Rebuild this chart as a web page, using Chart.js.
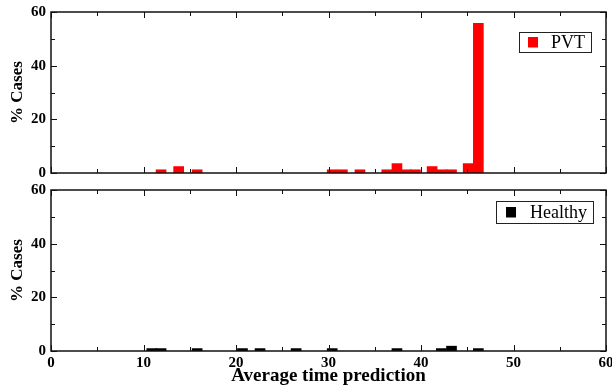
<!DOCTYPE html>
<html>
<head>
<meta charset="utf-8">
<script src="https://cdn.jsdelivr.net/npm/chart.js@4/dist/chart.umd.min.js"></script>
<style>
  html, body { margin: 0; padding: 0; background: #fff; }
  #wrap { position: relative; width: 612px; height: 388px; }
  #c1 { position: absolute; left: 0; top: 0; }
  #c2 { position: absolute; left: 0; top: 182px; }
</style>
</head>
<body>
<div id="wrap">
  <canvas id="c1" width="612" height="182"></canvas>
  <canvas id="c2" width="612" height="206"></canvas>
</div>
<script>
// ---- data ----
const pvtBins      = [11.9, 13.8, 15.8, 30.4, 31.5, 33.4, 36.3, 37.4, 38.4, 39.4, 41.2, 42.3, 43.3, 45.1, 46.2];
const pvtValues    = [1.2,  2.4,  1.2,  1.2,  1.2,  1.2,  1.2,  3.5,  1.2,  1.2,  2.4,  1.2,  1.2,  3.5,  55.8];
const healthyBins   = [10.9, 11.9, 15.8, 20.7, 22.6, 26.5, 30.4, 37.4, 42.2, 43.3, 46.2];
const healthyValues = [0.9,  0.9,  0.9,  0.9,  0.9,  0.9,  0.9,  0.9,  0.9,  1.8,  0.9];
const xTickValues = [0, 10, 20, 30, 40, 50, 60];
const yTickValues = [0, 20, 40, 60];
const seriesNames = ['PVT', 'Healthy'];
const yTitle = '% Cases';
const xTitle = 'Average time prediction';

const SERIF = '"Liberation Serif", "Times New Roman", serif';

function points(xs, ys) { return xs.map((x, i) => ({ x: x, y: ys[i] })); }

// frame + inward ticks on all four sides
const framePlugin = {
  id: 'frame',
  afterDraw(chart) {
    const { ctx, chartArea: a, scales } = chart;
    const xs = scales.x, ys = scales.y;
    ctx.save();
    ctx.strokeStyle = '#111';
    ctx.lineWidth = 1.5;
    ctx.strokeRect(a.left, a.top, a.right - a.left, a.bottom - a.top);
    ctx.lineWidth = 1;
    ctx.beginPath();
    for (let v = 0; v <= 60; v += 5) {
      const px = Math.round(xs.getPixelForValue(v)) + 0.5;
      const len = (v % 10 === 0) ? 6 : 4;
      ctx.moveTo(px, a.bottom); ctx.lineTo(px, a.bottom - len);
      ctx.moveTo(px, a.top); ctx.lineTo(px, a.top + len);
    }
    for (let v = 0; v <= 60; v += 10) {
      const py = Math.round(ys.getPixelForValue(v)) + 0.5;
      const len = (v % 20 === 0) ? 6 : 4;
      ctx.moveTo(a.left, py); ctx.lineTo(a.left + len, py);
      ctx.moveTo(a.right, py); ctx.lineTo(a.right - len, py);
    }
    ctx.stroke();
    ctx.restore();
  }
};

// boxed legend inside the plot
const boxLegendPlugin = {
  id: 'boxLegend',
  afterDraw(chart, args, opts) {
    const { ctx, chartArea: a } = chart;
    const ds = chart.data.datasets[0];
    ctx.save();
    ctx.font = '18px ' + SERIF;
    const tw = ctx.measureText(ds.label).width;
    const w = opts.padL + 10 + opts.gap + tw + opts.padR;
    const h = opts.h;
    const x = a.right - opts.right - w;
    const y = a.top + opts.top;
    ctx.fillStyle = '#fff';
    ctx.fillRect(x, y, w, h);
    ctx.strokeStyle = '#222';
    ctx.lineWidth = 1;
    ctx.strokeRect(Math.round(x) + 0.5, Math.round(y) + 0.5, Math.round(w), Math.round(h));
    ctx.fillStyle = ds.backgroundColor;
    ctx.fillRect(x + opts.padL, y + h / 2 - 5, 10, 10.5);
    ctx.fillStyle = '#000';
    ctx.textBaseline = 'middle';
    ctx.fillText(ds.label, x + opts.padL + 10 + opts.gap, y + h / 2 + 1);
    ctx.restore();
  }
};

function yScale(showTitle) {
  return {
    min: 0, max: 60,
    afterBuildTicks(scale) { scale.ticks = yTickValues.map(v => ({ value: v })); },
    afterFit(scale) { scale.width = 51; scale.paddingTop = 0; scale.paddingBottom = 0; },
    grid: { display: false, drawTicks: false },
    border: { display: false },
    ticks: { padding: 5, color: '#000', font: { family: SERIF, size: 15, weight: 'bold' } },
    title: { display: showTitle, text: yTitle, color: '#000', padding: { top: 7, bottom: 0 },
             font: { family: SERIF, size: 17, weight: 'bold' } }
  };
}

function makeChart(id, label, bins, values, color, showX, legendOpts, pad) {
  return new Chart(document.getElementById(id), {
    type: 'bar',
    data: {
      datasets: [{
        label: label,
        data: points(bins, values),
        backgroundColor: color,
        borderWidth: 0,
        barThickness: 10
      }]
    },
    options: {
      responsive: false,
      animation: false,
      layout: { padding: pad },
      plugins: {
        legend: { display: false },
        tooltip: { enabled: false },
        boxLegend: legendOpts
      },
      scales: {
        x: {
          type: 'linear', min: 0, max: 60,
          offset: false,
          display: showX,
          afterBuildTicks(scale) { scale.ticks = xTickValues.map(v => ({ value: v })); },
          afterFit(scale) { if (showX) { scale.height = 37; } scale.paddingLeft = 0; scale.paddingRight = 0; },
          grid: { display: false, drawTicks: false, offset: false },
          border: { display: false },
          ticks: { padding: 3, maxRotation: 0, autoSkip: false, color: '#000',
                   font: { family: SERIF, size: 15, weight: 'bold' } },
          title: { display: showX, text: xTitle, color: '#000', padding: { top: 0, bottom: 1 },
                   font: { family: SERIF, size: 19, weight: 'bold' } }
        },
        y: yScale(true)
      }
    },
    plugins: [framePlugin, boxLegendPlugin]
  });
}

makeChart('c1', seriesNames[0], pvtBins, pvtValues, '#ff0000', false,
  { right: 15, top: 20, h: 20, padL: 9, gap: 13, padR: 6 },
  { left: 0, right: 6, top: 12, bottom: 9 });

makeChart('c2', seriesNames[1], healthyBins, healthyValues, '#000000', true,
  { right: 13, top: 11, h: 22, padL: 10, gap: 14, padR: 6 },
  { left: 0, right: 6, top: 8, bottom: 0 });
</script>
</body>
</html>
